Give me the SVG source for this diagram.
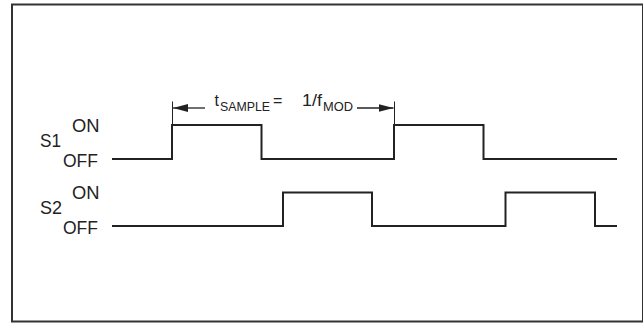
<svg xmlns="http://www.w3.org/2000/svg" width="643" height="324" viewBox="0 0 643 324">
<style>
.lbl{font-family:"Liberation Sans",Arial,sans-serif;font-size:17.5px;fill:#222}
.sm{font-family:"Liberation Sans",Arial,sans-serif;font-size:16px;fill:#222}
.sub{font-family:"Liberation Sans",Arial,sans-serif;font-size:13px;fill:#222}
.wave{fill:none;stroke:#222;stroke-width:2}
.thin{fill:none;stroke:#222;stroke-width:1}
.arr{fill:none;stroke:#222;stroke-width:1.3}
</style>
<defs>
<marker id="ah" viewBox="0 0 15 8" refX="15" refY="4" markerWidth="15" markerHeight="8" markerUnits="userSpaceOnUse" orient="auto-start-reverse">
<path d="M0,0 L15,4 L0,8 Z" fill="#222"/>
</marker>
</defs>
<rect x="12" y="4.5" width="631" height="317" fill="#fff" stroke="#333" stroke-width="2"/>
<g id="s1">
<text class="lbl" x="40" y="147" textLength="21" lengthAdjust="spacingAndGlyphs">S1</text>
<text class="lbl" x="72" y="131.5" textLength="27.5" lengthAdjust="spacingAndGlyphs">ON</text>
<text class="lbl" x="63" y="167" textLength="35" lengthAdjust="spacingAndGlyphs">OFF</text>
</g>
<g id="s2">
<text class="lbl" x="40" y="214" textLength="22" lengthAdjust="spacingAndGlyphs">S2</text>
<text class="lbl" x="72" y="198.5" textLength="27.5" lengthAdjust="spacingAndGlyphs">ON</text>
<text class="lbl" x="63" y="234" textLength="35" lengthAdjust="spacingAndGlyphs">OFF</text>
</g>
<g id="label">
<text class="sm" x="214.5" y="106">t</text>
<text class="sub" x="220" y="111" textLength="50" lengthAdjust="spacingAndGlyphs">SAMPLE</text>
<text class="sm" x="273" y="106">=</text>
<text class="sm" x="302" y="106" textLength="20" lengthAdjust="spacingAndGlyphs">1/f</text>
<text class="sub" x="323" y="111" textLength="30" lengthAdjust="spacingAndGlyphs">MOD</text>
</g>
<g id="connectors">
<polyline class="wave" points="112,159 172,159 172,125 261.5,125 261.5,159 394,159 394,125 483.5,125 483.5,159 617,159"/>
<polyline class="wave" points="112,226 283,226 283,192.5 372,192.5 372,226 505.5,226 505.5,192.5 595,192.5 595,226 617,226"/>
<line class="thin" x1="172.5" y1="101.5" x2="172.5" y2="125"/>
<line class="thin" x1="394.5" y1="101.5" x2="394.5" y2="125"/>
<line class="arr" x1="205" y1="108" x2="173" y2="108" marker-end="url(#ah)"/>
<line class="arr" x1="357" y1="108" x2="393.5" y2="108" marker-end="url(#ah)"/>
</g>
</svg>
